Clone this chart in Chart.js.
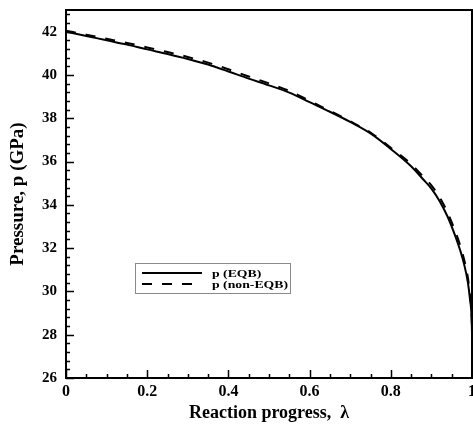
<!DOCTYPE html>
<html>
<head>
<meta charset="utf-8">
<script src="https://cdn.jsdelivr.net/npm/chart.js@4.4.1/dist/chart.umd.min.js"></script>
<style>
  html, body { margin: 0; padding: 0; background: #fff; }
  #wrap { width: 473px; height: 427px; }
</style>
</head>
<body>
<div id="wrap"><canvas id="chart"></canvas></div>
<script>
  // reaction progress and the two pressure curves
  const lambda = [0, 0.05, 0.1, 0.15, 0.2, 0.25, 0.3, 0.35, 0.4, 0.45, 0.5, 0.55, 0.6, 0.65, 0.7,
                  0.75, 0.8, 0.85, 0.88, 0.9, 0.92, 0.94, 0.96, 0.97, 0.98, 0.99, 0.995, 0.999, 1.0];
  const pEQB = [42.00, 41.80, 41.60, 41.40, 41.18, 40.97, 40.74, 40.48, 40.16, 39.83, 39.52, 39.18, 38.74, 38.30, 37.83,
                37.30, 36.58, 35.78, 35.17, 34.75, 34.18, 33.45, 32.50, 31.95, 31.30, 30.40, 29.65, 28.80, 28.10];
  const pNonEQB = [42.04, 41.86, 41.67, 41.48, 41.27, 41.06, 40.83, 40.57, 40.26, 39.93, 39.61, 39.26, 38.80, 38.34, 37.86,
                   37.34, 36.64, 35.88, 35.30, 34.90, 34.36, 33.64, 32.72, 32.18, 31.52, 30.62, 29.85, 28.95, 28.20];
  const seriesLabels = ['p (EQB)', 'p (non-EQB)'];

  const xMin = 0, xMax = 1, xStep = 0.2, xMinor = 0.05;
  const yMin = 26, yMax = 43, yStep = 2, yMinor = 0.4;

  const serif = '"Liberation Serif", "Times New Roman", serif';

  // keep the plot box fixed: no extra room for overhanging tick labels
  function noOverflow(scale) {
    scale.paddingLeft = 0;
    scale.paddingRight = 0;
    scale.paddingTop = 0;
    scale.paddingBottom = 0;
  }

  // frame, inward tick marks and the boxed legend
  const framePlugin = {
    id: 'frame',
    afterDraw(chart) {
      const { ctx, chartArea: a, scales } = chart;
      ctx.save();
      ctx.strokeStyle = '#000';

      ctx.lineWidth = 1.5;
      const nx = Math.round((xMax - xMin) / xMinor);
      for (let i = 0; i <= nx; i++) {
        const v = xMin + i * xMinor;
        const px = Math.round(scales.x.getPixelForValue(v)) + 0.5;
        const len = i % Math.round(xStep / xMinor) === 0 ? 8 : 4;
        ctx.beginPath();
        ctx.moveTo(px, a.bottom);
        ctx.lineTo(px, a.bottom - len);
        ctx.stroke();
      }
      for (let i = 0; yMin + i * yMinor <= yMax + 1e-9; i++) {
        const v = yMin + i * yMinor;
        const py = Math.round(scales.y.getPixelForValue(v)) + 0.5;
        const len = i % Math.round(yStep / yMinor) === 0 ? 8 : 4;
        ctx.beginPath();
        ctx.moveTo(a.left, py);
        ctx.lineTo(a.left + len, py);
        ctx.stroke();
      }

      ctx.lineWidth = 2;
      ctx.strokeRect(a.left, a.top, a.right - a.left, a.bottom - a.top);

      // legend box
      const bx = 135, by = 263, bw = 155, bh = 30;
      ctx.fillStyle = '#fff';
      ctx.fillRect(bx, by, bw, bh);
      ctx.lineWidth = 1;
      ctx.strokeStyle = '#8a8a8a';
      ctx.strokeRect(bx + 0.5, by + 0.5, bw, bh);
      ctx.font = 'bold 11px ' + serif;
      ctx.textBaseline = 'middle';
      ctx.fillStyle = '#000';
      chart.data.datasets.forEach((ds, i) => {
        const y = by + 10 + i * 11;
        ctx.strokeStyle = ds.borderColor;
        ctx.lineWidth = ds.borderWidth;
        ctx.setLineDash(ds.borderDash || []);
        ctx.beginPath();
        ctx.moveTo(bx + 7, y);
        ctx.lineTo(bx + 67, y);
        ctx.stroke();
        ctx.setLineDash([]);
        ctx.save();
        ctx.translate(bx + 77, y + 1);
        ctx.scale(1.25, 1);
        ctx.fillText(ds.label, 0, 0);
        ctx.restore();
      });
      ctx.restore();
    }
  };

  new Chart(document.getElementById('chart'), {
    type: 'line',
    data: {
      labels: lambda,
      datasets: [
        {
          label: seriesLabels[0],
          data: lambda.map((x, i) => ({ x: x, y: pEQB[i] })),
          borderColor: '#000',
          borderWidth: 2,
          pointRadius: 0,
          cubicInterpolationMode: 'monotone',
          fill: false
        },
        {
          label: seriesLabels[1],
          data: lambda.map((x, i) => ({ x: x, y: pNonEQB[i] })),
          borderColor: '#000',
          borderWidth: 2,
          borderDash: [10, 10],
          pointRadius: 0,
          cubicInterpolationMode: 'monotone',
          fill: false
        }
      ]
    },
    options: {
      responsive: true,
      maintainAspectRatio: false,
      animation: false,
      layout: { padding: { top: 10, right: 1, left: 0, bottom: 0 } },
      plugins: { legend: { display: false }, tooltip: { enabled: false } },
      scales: {
        x: {
          type: 'linear',
          min: xMin,
          max: xMax,
          grid: { display: false, drawTicks: false },
          border: { display: false },
          ticks: {
            stepSize: xStep,
            color: '#000',
            padding: 4,
            maxRotation: 0,
            callback: (v) => String(+v.toFixed(2)),
            font: { family: serif, size: 16, weight: 'bold' }
          },
          title: {
            display: true,
            text: 'Reaction progress,  λ',
            color: '#000',
            padding: { top: 0, bottom: 3 },
            font: { family: serif, size: 18, weight: 'bold' }
          },
          afterFit(scale) { scale.height = 49; noOverflow(scale); }
        },
        y: {
          min: yMin,
          max: yMax,
          grid: { display: false, drawTicks: false },
          border: { display: false },
          ticks: {
            stepSize: yStep,
            includeBounds: false,
            color: '#000',
            padding: 9,
            font: { family: serif, size: 15, weight: 'bold' }
          },
          title: {
            display: true,
            text: 'Pressure, p (GPa)',
            color: '#000',
            padding: { top: 7, bottom: 0 },
            font: { family: serif, size: 19, weight: 'bold' }
          },
          afterFit(scale) { scale.width = 66; noOverflow(scale); }
        }
      }
    },
    plugins: [framePlugin]
  });
</script>
</body>
</html>
